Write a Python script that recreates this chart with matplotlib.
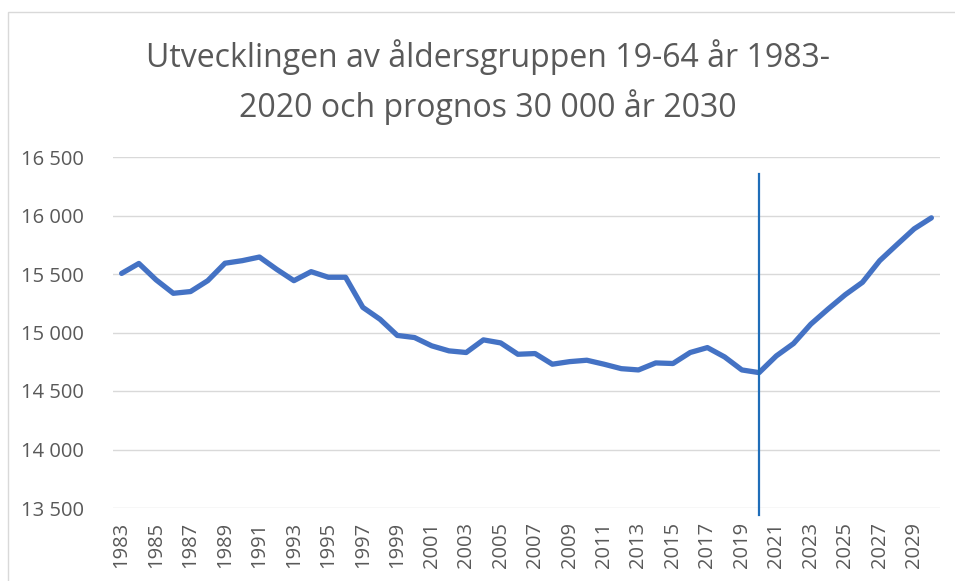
import matplotlib
matplotlib.use("Agg")
import matplotlib.pyplot as plt
from matplotlib.patches import Rectangle
from matplotlib.ticker import FuncFormatter

years = list(range(1983, 2031))
values = [15505, 15590, 15450, 15335, 15350, 15443, 15592, 15614, 15645, 15540,
          15443, 15520, 15472, 15472, 15215, 15113, 14975, 14957, 14886, 14843,
          14829, 14937, 14911, 14814, 14820, 14729, 14751, 14763, 14729, 14691,
          14680, 14740, 14735, 14829, 14871, 14791, 14680, 14657, 14800, 14906,
          15071, 15200, 15323, 15429, 15614, 15751, 15886, 15980]
title = "Utvecklingen av åldersgruppen 19-64 år 1983-\n2020 och prognos 30 000 år 2030"
y_ticks = [13500, 14000, 14500, 15000, 15500, 16000, 16500]
forecast_year = 2020

W, H = 955, 581
fig = plt.figure(figsize=(W / 100, H / 100), dpi=100)
fig.patch.set_facecolor("white")

# chart border (cropped at right/bottom)
fig.patches.append(Rectangle((7.5 / W, -0.1), 1.2, (H - 12.5) / H + 0.1,
                             transform=fig.transFigure, fill=False,
                             edgecolor="#D9D9D9", linewidth=1.0))

ax = fig.add_axes([113 / W, (H - 508) / H, (940 - 113) / W, (508 - 157) / H])
ax.set_xlim(years[0] - 0.5, years[-1] + 0.5)
ax.set_ylim(y_ticks[0], y_ticks[-1])
ax.set_yticks(y_ticks)
ax.yaxis.set_major_formatter(FuncFormatter(lambda v, p: f"{int(v):,}".replace(",", " ")))
ax.set_xticks(years[::2])
ax.set_xticklabels([str(y) for y in years[::2]], rotation=90)

for s in ax.spines.values():
    s.set_visible(False)
ax.grid(axis="y", color="#D9D9D9", linewidth=1.0)
ax.set_axisbelow(True)
ax.tick_params(axis="both", length=0, labelcolor="#595959")
ax.tick_params(axis="y", pad=21)
ax.tick_params(axis="x", pad=10)
for lab in ax.get_xticklabels() + ax.get_yticklabels():
    lab.set_fontfamily("Open Sans")
    lab.set_fontsize(14.5)

ax.plot(years, values, color="#4472C4", linewidth=3.8, solid_capstyle="round",
        solid_joinstyle="round", zorder=3)

ax.plot([forecast_year, forecast_year], [0.952, -0.02], color="#1F6DB8", linewidth=1.6,
        transform=ax.get_xaxis_transform(), clip_on=False, zorder=4)

fig.text(488 / W, 1 - 82 / H, title, ha="center", va="center", fontsize=23,
         family="Open Sans", color="#595959", linespacing=1.5)

fig.savefig("out.png", dpi=100)
